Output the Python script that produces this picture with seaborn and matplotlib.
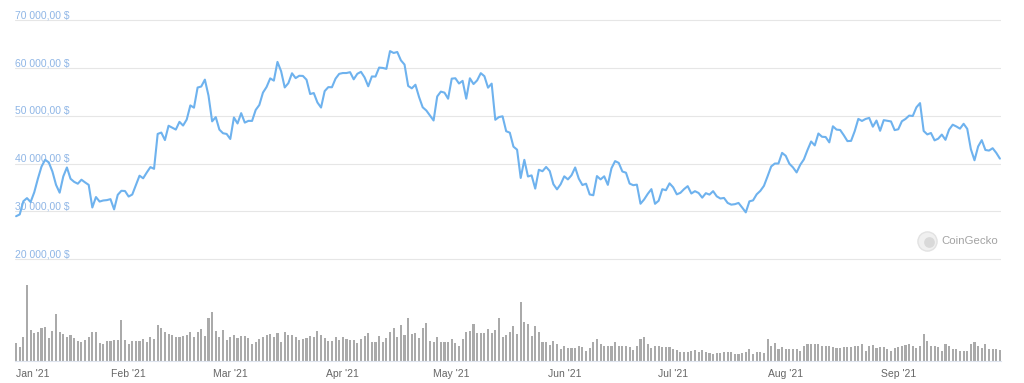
import numpy as np
import pandas as pd
import matplotlib
matplotlib.use("Agg")
import matplotlib.pyplot as plt
import seaborn as sns

# ---------------- data ----------------
start_date = "2021-01-01"

price_usd = [
    29001,
    # Jan
    29374, 32128, 32783, 31971, 33992, 36824, 39371, 40797, 40254, 38356,
    35566, 33922, 37316, 39187, 36825, 36178, 35792, 36630, 36070, 35548,
    30825, 33005, 32067, 32290, 32366, 32569, 30432, 33467, 34316, 34269, 33114,
    # Feb
    33537, 35510, 37472, 36926, 38144, 39266, 38903, 46196, 46481, 44918,
    47909, 47504, 47105, 48717, 47945, 49199, 52149, 51679, 55888, 56099,
    57539, 54207, 48824, 49705, 47093, 46339, 46188, 45137,
    # Mar
    49631, 48378, 50538, 48561, 48927, 48912, 51206, 52246, 54824, 56008,
    57805, 57333, 61243, 59302, 55907, 56804, 58870, 57858, 58346, 58313,
    57523, 54529, 54738, 52774, 51705, 55137, 55974, 55947, 57750, 58746, 58918,
    # Apr
    58919, 59095, 57604, 58760, 59171, 57995, 56150, 58203, 58178, 60059,
    59983, 59793, 63503, 63109, 63314, 61572, 60683, 56216, 55724, 56473,
    53906, 51762, 51093, 50050, 49004, 54021, 55033, 54824, 53555, 57750,
    # May
    57828, 56731, 57285, 53555, 57823, 56613, 57383, 58892, 58255, 55859,
    56705, 49150, 49717, 49880, 46760, 46456, 43538, 42910, 37002, 40782,
    37304, 37536, 34770, 38705, 38402, 39294, 38436, 35697, 34616, 35678, 37341,
    # Jun
    36694, 37568, 39187, 36851, 35520, 35796, 33552, 33380, 37389, 36697,
    37340, 35555, 39016, 40516, 40144, 38349, 38092, 35820, 35484, 35600,
    31608, 32509, 33678, 34663, 31594, 32243, 34649, 34435, 35867, 35041,
    # Jul
    33572, 33897, 34668, 35287, 33746, 34235, 33855, 32877, 33816, 33515,
    34240, 33155, 32702, 32822, 31780, 31421, 31520, 31778, 30817, 29807,
    32110, 32313, 33581, 34292, 35350, 37337, 39404, 40008, 40016, 42236, 41626,
    # Aug
    39974, 39201, 38153, 39747, 40870, 42836, 44614, 43792, 46285, 45601,
    45553, 44429, 47793, 47097, 47018, 45919, 44696, 44741, 46766, 49340,
    48906, 49322, 49547, 47707, 48990, 46852, 49077, 48942, 48802, 46993, 47166,
    # Sep
    48847, 49327, 50025, 49944, 51753, 52633, 46811, 46091, 46392, 44851,
    45202, 46063, 44963, 47093, 48126, 47753, 47300, 48311, 47261, 43012,
    40693, 43574, 44896, 42840, 42717, 43209, 42235, 41034,
]

volume_bn = [
    27.5, 21.5, 35.5, 113.5, 46.5, 42.5, 44, 49, 51.5, 34,
    45.5, 70, 43, 40.5, 36.5, 39, 34, 30.5, 28, 31.5,
    35.5, 43, 43, 26.5, 25.5, 30.5, 30, 31.5, 31.5, 61.5,
    31.5, 25.5, 30.5, 30.5, 30.5, 33, 29, 35.5, 33, 54,
    49, 43, 40.5, 39, 36.5, 35.5, 38, 39, 43, 35.5,
    44, 47.5, 38, 64, 73.5, 45.5, 36.5, 46.5, 31.5, 35.5,
    39, 34, 37.5, 38, 34, 25.5, 28, 33, 35.5, 39,
    40.5, 36.5, 41.5, 29, 44, 39, 39, 35.5, 31.5, 32.5,
    34, 38, 36.5, 45.5, 39, 34, 30, 30.5, 35.5, 31.5,
    35.5, 32.5, 31.5, 31.5, 27.5, 32.5, 37.5, 41.5, 29, 28,
    38, 28, 34, 44, 50, 36.5, 54, 39, 64, 40.5,
    41.5, 34, 49, 56.5, 30.5, 28, 36.5, 29, 29, 28,
    33, 26.5, 22.5, 32.5, 44, 45.5, 55, 41.5, 41.5, 41.5,
    47.5, 41.5, 46.5, 65, 35.5, 39, 44, 53, 40.5, 88.5,
    59, 55.5, 38, 53, 44, 29, 28, 24, 30.5, 25.5,
    18, 23, 19, 19, 19, 23, 20.5, 15.5, 19, 28,
    33, 25.5, 22.5, 22.5, 22.5, 28, 22.5, 22.5, 22.5, 20.5,
    16.5, 22.5, 32.5, 35.5, 25, 20, 23, 22.5, 20.5, 20.5,
    20.5, 18, 16.5, 14, 14, 14, 15.5, 16.5, 14, 16.5,
    14, 12.5, 10, 12.5, 11.5, 13, 13, 14, 10, 10.5,
    11.5, 14, 17.5, 10.5, 13, 13, 12.5, 33, 22.5, 26.5,
    17.5, 21.5, 17.5, 17.5, 17.5, 17.5, 15.5, 23, 25, 25.5,
    25, 25.5, 22.5, 22.5, 22.5, 20.5, 20, 20, 20.5, 20.5,
    20.5, 23, 22.5, 25.5, 15.5, 22.5, 23.5, 20, 20.5, 20.5,
    17.5, 15.5, 20, 20.5, 23, 23.5, 25.5, 22.5, 20, 23,
    40, 30, 23, 23, 20.5, 15.5, 25, 23, 18, 18,
    15.5, 15.5, 15.5, 25, 28, 22.5, 19, 25.5, 18, 18,
    18, 16.5,
]

price_ticks = [20000, 30000, 40000, 50000, 60000, 70000]
price_tick_labels = ["20 000,00 $", "30 000,00 $", "40 000,00 $",
                     "50 000,00 $", "60 000,00 $", "70 000,00 $"]
month_labels = ["Jan '21", "Feb '21", "Mar '21", "Apr '21", "May '21",
                "Jun '21", "Jul '21", "Aug '21", "Sep '21"]
watermark = "CoinGecko"

# ---------------- frame ----------------
dates = pd.date_range(start_date, periods=len(price_usd), freq="D")
df = pd.DataFrame({"day": np.arange(len(price_usd)),
                   "price": price_usd,
                   "volume": volume_bn})
month_pos = df["day"][dates.day == 1].tolist()

sns.set_style("white")
plt.rcParams["font.family"] = ["Liberation Sans", "DejaVu Sans"]

W, H = 1024, 383
fig = plt.figure(figsize=(W / 100, H / 100), dpi=100)
fig.patch.set_facecolor("white")

left = 15 / W
width = 986 / W
xlim = (-0.3, len(price_usd) - 1 + 0.3)

# price axes
ax1 = fig.add_axes([left, 1 - 261.7 / H, width, (261.7 - 17.6) / H])
sns.lineplot(data=df, x="day", y="price", ax=ax1, color="#6eb2ee",
             linewidth=1.5, solid_joinstyle="round", zorder=3)
ax1.set_xlim(*xlim)
ax1.set_ylim(19500, 70500)
ax1.set_yticks(price_ticks)
ax1.yaxis.grid(True, color="#e6e6e6", linewidth=0.8)
ax1.xaxis.grid(False)
ax1.set_axisbelow(True)
ax1.tick_params(left=False, labelleft=False, bottom=False, labelbottom=False)
ax1.set_xlabel("")
ax1.set_ylabel("")
for s in ax1.spines.values():
    s.set_visible(False)
for v, lab in zip(price_ticks, price_tick_labels):
    ax1.text(0, v + 380, lab, transform=ax1.get_yaxis_transform(),
             ha="left", va="baseline", fontsize=7.5, color="#8fb6e6", zorder=1)

# watermark
ax1.scatter([0.925], [0.085], transform=ax1.transAxes, s=190,
            color="#f0f0f0", edgecolors="#e2e2e2", linewidths=1, zorder=2,
            clip_on=False)
ax1.scatter([0.9265], [0.08], transform=ax1.transAxes, s=60,
            color="#d9d9d9", linewidths=0, zorder=2, clip_on=False)
ax1.text(0.940, 0.085, watermark, transform=ax1.transAxes, ha="left",
         va="center", fontsize=8.2, color="#a3a3a3", zorder=2)

# volume axes
ax2 = fig.add_axes([left, 1 - 361 / H, width, 81 / H])
sns.barplot(data=df, x="day", y="volume", ax=ax2, native_scale=True,
            color="#aaaaaa", saturation=1, width=0.58, errorbar=None,
            linewidth=0)
ax2.set_xlim(*xlim)
ax2.set_ylim(0, 121.5)
ax2.set_xticks(month_pos)
ax2.set_xticklabels(month_labels)
ax2.tick_params(axis="x", length=4, width=0.8, color="#ccd6eb", pad=1.5,
                labelsize=7.5, labelcolor="#666666")
ax2.tick_params(left=False, labelleft=False)
ax2.set_xlabel("")
ax2.set_ylabel("")
ax2.grid(False)
for name, s in ax2.spines.items():
    s.set_visible(name == "bottom")
ax2.spines["bottom"].set_color("#dde3ee")
ax2.spines["bottom"].set_linewidth(0.8)
lbls = ax2.get_xticklabels()
lbls[0].set_ha("left")

fig.savefig("out.png", dpi=100, facecolor="white")
